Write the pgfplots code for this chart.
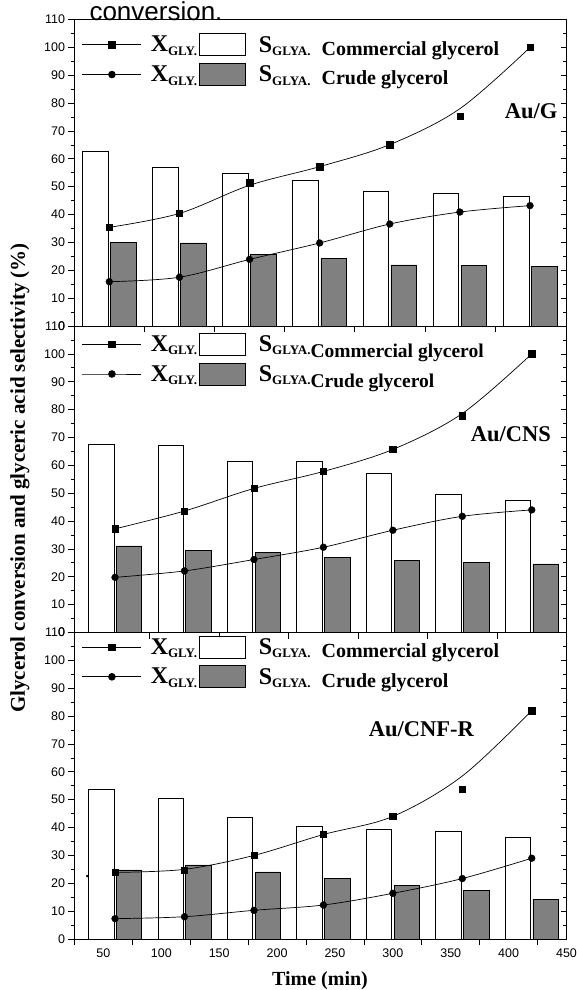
\documentclass[border=0pt]{standalone}
\usepackage{pgfplots}
\pgfplotsset{compat=1.18}
\usepackage{fontspec}
\setmainfont{Liberation Serif}
\newfontfamily\arial{Liberation Sans}
\newcommand{\tk}{\arial\fontsize{12.5}{13}\selectfont}
\newcommand{\fs}[1]{\fontsize{#1}{#1}\selectfont}
\newcommand{\Xg}{{\fs{24}X}\raisebox{-3.5pt}{\fs{13}GLY.}}
\newcommand{\Sg}{{\fs{24}S}\raisebox{-3.5pt}{\fs{13}GLYA.}}

\pgfplotsset{
  panel/.style={width=492pt, height=306.5pt, scale only axis,
    ymin=0, ymax=110, ytick={0,10,...,110}, minor y tick num=1,
    ytick pos=left, xtick pos=bottom, tick align=outside,
    major tick length=6pt, minor tick length=3.5pt,
    every tick/.style={black, line width=0.7pt},
    axis line style={line width=0.8pt},
    yticklabel style={font=\tk, /pgf/number format/assume math mode=true},
    xticklabel style={font=\tk, /pgf/number format/assume math mode=true},
    legend cell align=left,
    legend style={draw=none, fill=none, anchor=north west, legend columns=2,
      font=\bfseries, inner sep=0pt, column sep=0pt, row sep=7pt},
  },
  rticks/.style={width=492pt, height=306.5pt, scale only axis,
    ymin=0, ymax=110, xmin=0, xmax=1, ytick={0,10,...,110}, minor y tick num=1,
    ytick pos=right, tick align=inside, yticklabels={}, xtick=\empty,
    axis line style={draw=none}, major tick length=6pt, minor tick length=3.5pt,
    every tick/.style={black, line width=0.7pt}},
  lineleg/.style={legend image code/.code={
    \draw[mark repeat=2,mark phase=2,##1] plot coordinates {(0pt,0pt) (29.5pt,0pt) (59pt,0pt)};
    \path (66pt,0pt);}},
  barleg/.style={legend image code/.code={
    \draw[##1] (14pt,-11pt) rectangle (60pt,11pt);
    \path (71pt,0pt);}},
  wbar/.style={ybar, bar width=22, bar shift=-12, fill=white, draw=black, line width=0.7pt, forget plot},
  gbar/.style={ybar, bar width=22, bar shift=12, fill=gray, draw=black, line width=0.7pt, forget plot},
  fit/.style={black, line width=0.7pt, smooth, tension=0.55, mark=none, forget plot},
  sq/.style={only marks, mark=square*, mark size=3.2pt, black, forget plot},
  ci/.style={only marks, mark=*, mark size=3.4pt, black, forget plot},
}

\begin{document}
\begin{tikzpicture}

\node[anchor=base west, font=\arial\fs{26}] at (86pt,-20.5pt) {conversion.};

% ---------- Au/G ----------
\begin{axis}[panel, at={(74.5pt,-326pt)}, anchor=south west,
  xmin=30.2, xmax=451.2, xtick={90,150,...,390}, xticklabels={},
  legend style={at={(axis description cs:0.015,0.955)}}]
\addlegendimage{lineleg, black, line width=0.7pt, mark=square*, mark size=3.2pt}
\addlegendentry{\Xg}
\addlegendimage{barleg, fill=white, draw=black, line width=0.7pt}
\addlegendentry{\Sg\hspace{11pt}\raisebox{-3pt}{\fs{20}Commercial glycerol}}
\addlegendimage{lineleg, black, line width=0.7pt, mark=*, mark size=3.4pt}
\addlegendentry{\Xg}
\addlegendimage{barleg, fill=gray, draw=black, line width=0.7pt}
\addlegendentry{\Sg\hspace{11pt}\raisebox{-3pt}{\fs{20}Crude glycerol}}
\addplot[wbar] coordinates {(60,62.6) (120,56.8) (180,54.7) (240,52.2) (300,48.2) (360,47.7) (420,46.6)};
\addplot[gbar] coordinates {(60,30.0) (120,29.8) (180,25.8) (240,24.3) (300,21.9) (360,21.7) (420,21.5)};
\addplot[fit] coordinates {(60,35.4) (120,40.4) (180,50.5) (240,57.2) (300,65.1) (360,78) (420,100)};
\addplot[sq] coordinates {(60,35.4) (120,40.4) (180,51.4) (240,57.2) (300,65.1) (360,75.4) (420,100)};
\addplot[fit] coordinates {(60,15.9) (120,17.5) (180,23.9) (240,29.8) (300,36.6) (360,40.9) (420,43.2)};
\addplot[ci] coordinates {(60,15.9) (120,17.5) (180,23.9) (240,29.8) (300,36.6) (360,40.9) (420,43.2)};
\node[font=\bfseries\fs{22.5}] at (axis description cs:0.928,0.70) {Au/G};
\end{axis}
\begin{axis}[rticks, at={(74.5pt,-326pt)}, anchor=south west]
\end{axis}

% ---------- Au/CNS ----------
\begin{axis}[panel, at={(74.5pt,-632.5pt)}, anchor=south west,
  xmin=25, xmax=450, xtick={90,150,...,390}, xticklabels={},
  legend style={at={(axis description cs:0.015,0.978)}}]
\addlegendimage{lineleg, black, line width=0.7pt, mark=square*, mark size=3.2pt}
\addlegendentry{\Xg}
\addlegendimage{barleg, fill=white, draw=black, line width=0.7pt}
\addlegendentry{\Sg\raisebox{-6pt}{\fs{19.5}Commercial glycerol}}
\addlegendimage{lineleg, black, line width=0.7pt, mark=*, mark size=3.4pt}
\addlegendentry{\Xg}
\addlegendimage{barleg, fill=gray, draw=black, line width=0.7pt}
\addlegendentry{\Sg\raisebox{-6pt}{\fs{19.5}Crude glycerol}}
\addplot[wbar] coordinates {(60,67.6) (120,67.1) (180,61.6) (240,61.5) (300,57.2) (360,49.6) (420,47.3)};
\addplot[gbar] coordinates {(60,31.1) (120,29.6) (180,28.6) (240,27.0) (300,25.8) (360,25.1) (420,24.6)};
\addplot[fit] coordinates {(60,37.2) (120,43.6) (180,51.7) (240,57.8) (300,65.7) (360,78.6) (420,100)};
\addplot[sq] coordinates {(60,37.2) (120,43.6) (180,51.7) (240,57.8) (300,65.7) (360,77.8) (420,100)};
\addplot[fit] coordinates {(60,19.8) (120,22.1) (180,26.2) (240,30.6) (300,36.7) (360,41.7) (420,44.0)};
\addplot[ci] coordinates {(60,19.8) (120,22.1) (180,26.2) (240,30.6) (300,36.7) (360,41.7) (420,44.0)};
\node[font=\bfseries\fs{22.5}] at (axis description cs:0.887,0.648) {Au/CNS};
\end{axis}
\begin{axis}[rticks, at={(74.5pt,-632.5pt)}, anchor=south west]
\end{axis}

% ---------- Au/CNF-R ----------
\begin{axis}[panel, at={(74.5pt,-939pt)}, anchor=south west,
  xmin=25, xmax=450, xtick={25,75,...,425}, xticklabels={},
  extra x ticks={50,100,...,450},
  extra x tick style={major tick length=0pt, xticklabel style={yshift=-6pt}},
  legend style={at={(axis description cs:0.015,0.99)}}]
\addlegendimage{lineleg, black, line width=0.7pt, mark=square*, mark size=3.2pt}
\addlegendentry{\Xg}
\addlegendimage{barleg, fill=white, draw=black, line width=0.7pt}
\addlegendentry{\Sg\hspace{11pt}\raisebox{-3pt}{\fs{20}Commercial glycerol}}
\addlegendimage{lineleg, black, line width=0.7pt, mark=*, mark size=3.4pt}
\addlegendentry{\Xg}
\addlegendimage{barleg, fill=gray, draw=black, line width=0.7pt}
\addlegendentry{\Sg\hspace{11pt}\raisebox{-3pt}{\fs{20}Crude glycerol}}
\addplot[wbar] coordinates {(60,53.8) (120,50.4) (180,43.7) (240,40.6) (300,39.5) (360,38.8) (420,36.4)};
\addplot[gbar] coordinates {(60,24.8) (120,26.6) (180,24.1) (240,21.7) (300,19.2) (360,17.4) (420,14.2)};
\addplot[fit] coordinates {(60,23.9) (120,25.0) (180,30.0) (240,37.5) (300,44.0) (360,58.5) (420,82)};
\addplot[sq] coordinates {(60,23.9) (120,24.8) (180,30.0) (240,37.7) (300,44.0) (360,53.8) (420,82)};
\addplot[fit] coordinates {(60,7.3) (120,8.0) (180,10.3) (240,12.2) (300,16.4) (360,21.7) (420,29.0)};
\addplot[ci] coordinates {(60,7.3) (120,8.0) (180,10.3) (240,12.2) (300,16.4) (360,21.7) (420,29.0)};
\addplot[only marks, mark=*, mark size=1pt, black, forget plot] coordinates {(36,22.6)};
\node[font=\bfseries\fs{22.5}] at (axis description cs:0.705,0.685) {Au/CNF-R};
\end{axis}
\begin{axis}[rticks, at={(74.5pt,-939pt)}, anchor=south west]
\end{axis}

\node[rotate=90, font=\bfseries\fs{21}] at (20pt,-478pt) {Glycerol conversion and glyceric acid selectivity (\%)};
\node[font=\bfseries\fs{20}] at (320pt,-981pt) {Time (min)};

\pgfresetboundingbox
\useasboundingbox (0pt,0pt) rectangle (576pt,-990pt);
\end{tikzpicture}
\end{document}
